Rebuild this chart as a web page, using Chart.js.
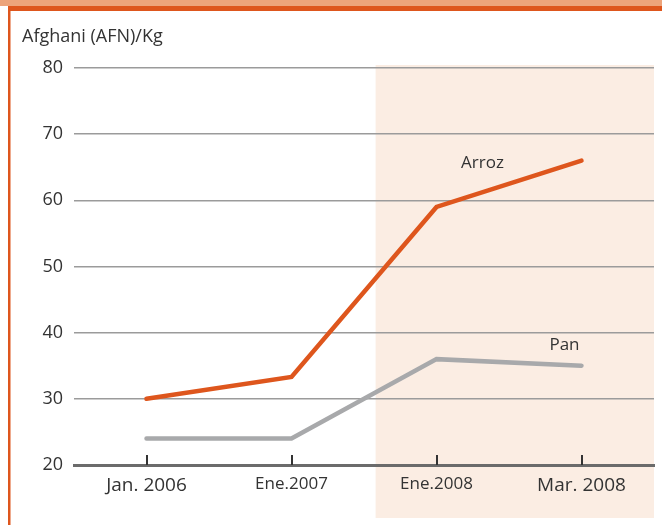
<!DOCTYPE html>
<html>
<head>
<meta charset="utf-8">
<script src="https://cdn.jsdelivr.net/npm/chart.js@4/dist/chart.umd.min.js"></script>
<style>
  html, body { margin: 0; padding: 0; background: #fff; }
  #wrap { width: 662px; height: 525px; position: relative; }
</style>
</head>
<body>
<div id="wrap"><canvas id="chart" width="662" height="525"></canvas></div>
<script>
const periods = ['Jan. 2006', 'Ene.2007', 'Ene.2008', 'Mar. 2008'];
const arroz = [30, 33.3, 59, 66];
const pan = [24, 24, 36, 35];
const yTicks = [20, 30, 40, 50, 60, 70, 80];
const unitLabel = 'Afghani (AFN)/Kg';

const FONT = '"Open Sans", "Noto Sans", sans-serif';
const ORANGE = '#de561d';
const GREY = '#a8a9ab';
const TEXT = '#333333';

// frame, shaded 2008 block
const background = {
    id: 'background',
    beforeDraw(chart) {
        const ctx = chart.ctx;
        const area = chart.chartArea;
        const x = chart.scales.x;
        ctx.save();
        ctx.fillStyle = '#eda47b';
        ctx.fillRect(0, 0, chart.width, 6);
        ctx.fillStyle = ORANGE;
        ctx.fillRect(8, 6, chart.width - 8, 5);
        ctx.fillRect(8, 6, 2.5, chart.height);
        const step = x.getPixelForValue(3) - x.getPixelForValue(2);
        const left = x.getPixelForValue(2) - 0.42 * step;
        ctx.fillStyle = '#fbede3';
        ctx.fillRect(left, area.top - 3, area.right - left, 518 - area.top + 3);
        ctx.restore();
    },
    afterDraw(chart) {
        const ctx = chart.ctx;
        const area = chart.chartArea;
        const x = chart.scales.x;
        const y = chart.scales.y;
        ctx.save();
        // ticks above the axis
        ctx.strokeStyle = '#333';
        ctx.lineWidth = 2;
        periods.forEach((p, i) => {
            const px = Math.round(x.getPixelForValue(i));
            ctx.beginPath();
            ctx.moveTo(px, area.bottom - 10);
            ctx.lineTo(px, area.bottom);
            ctx.stroke();
        });
        ctx.fillStyle = TEXT;
        ctx.textBaseline = 'middle';
        ctx.textAlign = 'left';
        ctx.font = '18px ' + FONT;
        ctx.fillText(unitLabel, 22, 37);
        ctx.font = '17px ' + FONT;
        ctx.textAlign = 'center';
        ctx.fillText('Arroz', x.getPixelForValue(3) - 99, y.getPixelForValue(arroz[3]) + 3);
        ctx.fillText('Pan', x.getPixelForValue(3) - 17, y.getPixelForValue(pan[3]) - 21);
        ctx.restore();
    }
};

new Chart(document.getElementById('chart').getContext('2d'), {
    type: 'line',
    data: {
        labels: periods,
        datasets: [
            { label: 'Arroz', data: arroz, borderColor: ORANGE, borderWidth: 4.5 },
            { label: 'Pan', data: pan, borderColor: GREY, borderWidth: 4.5 }
        ]
    },
    options: {
        responsive: false,
        animation: false,
        layout: { padding: { top: 68, right: 8, left: 0, bottom: 0 } },
        elements: {
            point: { radius: 0 },
            line: { tension: 0, borderCapStyle: 'round', borderJoinStyle: 'miter', fill: false }
        },
        plugins: { legend: { display: false }, tooltip: { enabled: false } },
        scales: {
            x: {
                offset: true,
                grid: { display: false, drawTicks: false },
                border: { display: true, color: '#6b6b6b', width: 3 },
                ticks: {
                    color: TEXT,
                    font: ctx => ({ family: FONT, size: (ctx.index === 0 || ctx.index === 3) ? 19 : 17 }),
                    padding: 9,
                    maxRotation: 0
                },
                afterFit(scale) { scale.height = 60; }
            },
            y: {
                min: yTicks[0],
                max: yTicks[yTicks.length - 1],
                afterBuildTicks(scale) { scale.ticks = yTicks.map(v => ({ value: v })); },
                grid: {
                    drawTicks: false,
                    color: ctx => ctx.tick && ctx.tick.value === yTicks[0] ? 'rgba(0,0,0,0)' : '#9b9b9b',
                    lineWidth: 1.5
                },
                border: { display: false },
                ticks: { color: TEXT, font: { family: FONT, size: 18 }, padding: 11 },
                afterFit(scale) { scale.width = 74; }
            }
        }
    },
    plugins: [background]
});
</script>
</body>
</html>
